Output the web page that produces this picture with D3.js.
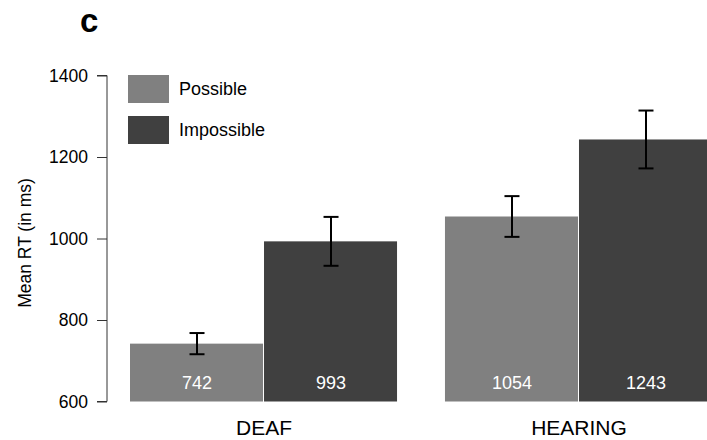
<!DOCTYPE html>
<html>
<head>
<meta charset="utf-8">
<script src="https://cdn.jsdelivr.net/npm/d3@7"></script>
<style>
  body { margin: 0; background: #fff; }
  svg { display: block; font-family: "Liberation Sans", Arial, sans-serif; }
</style>
</head>
<body>
<div id="chart"></div>
<script>
// data
var groups = ["DEAF", "HEARING"];
var series = ["Possible", "Impossible"];
var colors = ["#808080", "#404040"];
var possibleRT = [742, 1054];
var impossibleRT = [993, 1243];
var possibleErr = [26, 50];
var impossibleErr = [60, 71];
var yTicks = [600, 800, 1000, 1200, 1400];

var svgWidth = 707;
var svgHeight = 440;

var svg = d3.select("#chart")
  .append("svg")
  .attr("width", svgWidth)
  .attr("height", svgHeight);

// build rows from the arrays
var rows = [];
groups.forEach(function(g, i) {
  rows.push({ group: g, series: series[0], value: possibleRT[i], err: possibleErr[i] });
  rows.push({ group: g, series: series[1], value: impossibleRT[i], err: impossibleErr[i] });
});

var yScale = d3.scaleLinear()
  .domain([600, 1400])
  .range([401.5, 75.5]);

var x0 = d3.scaleBand()
  .domain(groups)
  .range([130, 713])
  .paddingInner(0.149);

var x1 = d3.scaleBand()
  .domain(series)
  .range([0, x0.bandwidth()]);

var color = d3.scaleOrdinal().domain(series).range(colors);

// y axis
var leftAxis = d3.axisLeft(yScale)
  .tickValues(yTicks)
  .tickSize(10)
  .tickPadding(9)
  .tickFormat(d3.format("d"));

var axisG = svg.append("g")
  .attr("transform", "translate(107, 0)")
  .call(leftAxis);

axisG.select(".domain")
  .attr("d", "M-10," + yScale(1400) + "H0V" + yScale(600) + "H-10")
  .attr("stroke", "#333");
axisG.selectAll(".tick line").attr("stroke", "#333");
axisG.selectAll(".tick text")
  .attr("font-size", 17.5)
  .attr("font-family", "Liberation Sans, Arial, sans-serif")
  .attr("fill", "#000");

// bars
svg.selectAll("rect.bar")
  .data(rows)
  .enter()
  .append("rect")
  .attr("class", "bar")
  .attr("x", d => x0(d.group) + x1(d.series))
  .attr("y", d => yScale(d.value))
  .attr("width", x1.bandwidth() - 1)
  .attr("height", d => yScale(600) - yScale(d.value))
  .attr("fill", d => color(d.series));

// value labels
svg.selectAll("text.val")
  .data(rows)
  .enter()
  .append("text")
  .attr("class", "val")
  .attr("x", d => x0(d.group) + x1(d.series) + x1.bandwidth() / 2)
  .attr("y", 389)
  .attr("text-anchor", "middle")
  .attr("font-size", 18)
  .attr("fill", "#fff")
  .text(d => d.value);

// error bars
var errG = svg.append("g")
  .attr("stroke", "#000")
  .attr("stroke-width", 2);

rows.forEach(function(d) {
  var cx = x0(d.group) + x1(d.series) + x1.bandwidth() / 2;
  var top = yScale(d.value + d.err);
  var bot = yScale(d.value - d.err);
  errG.append("line").attr("x1", cx).attr("x2", cx).attr("y1", top).attr("y2", bot);
  errG.append("line").attr("x1", cx - 7.5).attr("x2", cx + 7.5).attr("y1", top).attr("y2", top);
  errG.append("line").attr("x1", cx - 7.5).attr("x2", cx + 7.5).attr("y1", bot).attr("y2", bot);
});

// group labels
svg.selectAll("text.grp")
  .data(groups)
  .enter()
  .append("text")
  .attr("class", "grp")
  .attr("x", d => x0(d) + x0.bandwidth() / 2)
  .attr("y", 435)
  .attr("text-anchor", "middle")
  .attr("font-size", 21)
  .attr("fill", "#000")
  .text(d => d);

// legend
var legend = svg.selectAll("g.legend")
  .data(series)
  .enter()
  .append("g")
  .attr("class", "legend")
  .attr("transform", (d, i) => `translate(128, ${75 + i * 41})`);

legend.append("rect")
  .attr("width", 41)
  .attr("height", 28)
  .attr("fill", d => color(d));

legend.append("text")
  .attr("x", 51)
  .attr("y", 14)
  .attr("dy", "0.35em")
  .attr("font-size", 18)
  .attr("fill", "#000")
  .text(d => d);

// y label
svg.append("text")
  .attr("transform", "translate(31, 243) rotate(-90)")
  .attr("text-anchor", "middle")
  .attr("font-size", 17.5)
  .attr("fill", "#000")
  .text("Mean RT (in ms)");

// panel letter
svg.append("text")
  .attr("x", 80)
  .attr("y", 32)
  .attr("font-size", 33)
  .attr("font-weight", "bold")
  .attr("fill", "#000")
  .text("c");
</script>
</body>
</html>
